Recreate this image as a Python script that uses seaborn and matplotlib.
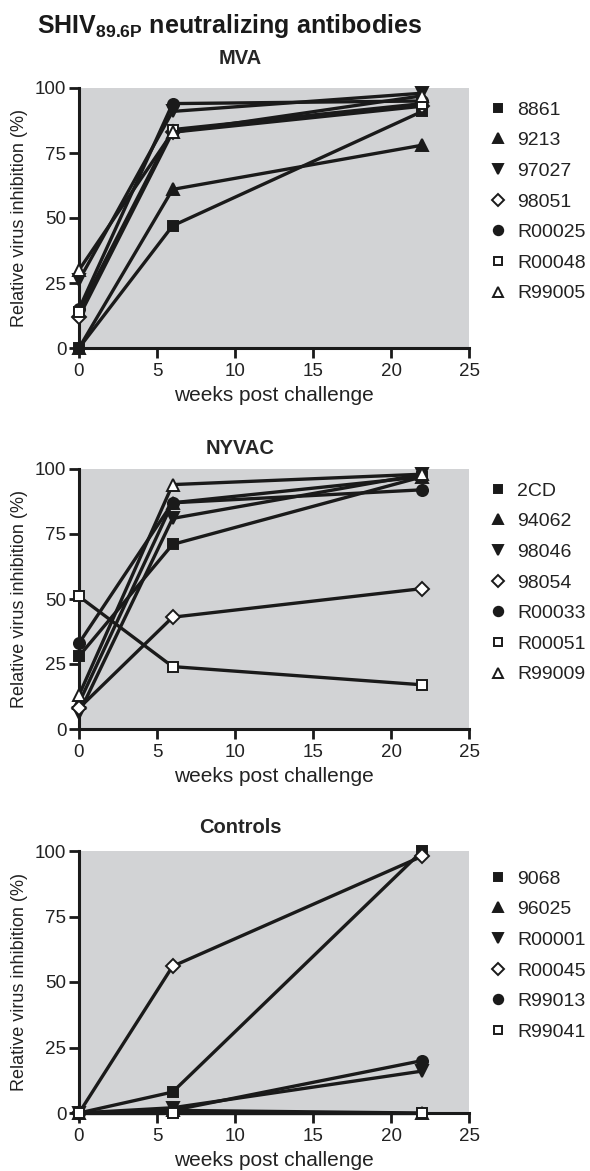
import matplotlib
matplotlib.use("Agg")
import matplotlib.pyplot as plt
from matplotlib.lines import Line2D
import seaborn as sns
import pandas as pd

weeks = [0, 6, 22]

mva_animals = ["8861", "9213", "97027", "98051", "R00025", "R00048", "R99005"]
mva_values = [
    [0, 47, 91],
    [0, 61, 78],
    [26, 91, 98],
    [12, 83, 93],
    [15, 94, 95],
    [14, 84, 94],
    [30, 83, 97],
]

nyvac_animals = ["2CD", "94062", "98046", "98054", "R00033", "R00051", "R99009"]
nyvac_values = [
    [28, 71, 97],
    [10, 87, 97],
    [6, 81, 98],
    [8, 43, 54],
    [33, 87, 92],
    [51, 24, 17],
    [13, 94, 98],
]

ctrl_animals = ["9068", "96025", "R00001", "R00045", "R99013", "R99041"]
ctrl_values = [
    [0, 8, 100],
    [0, 1, 0],
    [0, 2, 16],
    [0, 56, 98],
    [0, 1, 20],
    [0, 0, 0],
]

panel_titles = ["MVA", "NYVAC", "Controls"]
y_ticks = [0, 25, 50, 75, 100]
x_ticks = [0, 5, 10, 15, 20, 25]

# marker styles (shape, filled)
styles7 = [("s", True), ("^", True), ("v", True), ("D", False), ("o", True), ("s", False), ("^", False)]
styles_ctrl = [("s", True), ("^", True), ("v", True), ("D", False), ("o", True), ("s", False)]

sns.set_style("ticks")
plt.rcParams["font.family"] = ["Liberation Sans", "DejaVu Sans"]
plt.rcParams["mathtext.fontset"] = "custom"
plt.rcParams["mathtext.rm"] = "Liberation Sans"
plt.rcParams["mathtext.bf"] = "Liberation Sans:bold"

fig = plt.figure(figsize=(5.9, 11.71), dpi=100)

axes_rects = [
    [79 / 590, 1 - 348 / 1171, 390 / 590, 260 / 1171],
    [79 / 590, 1 - 729 / 1171, 390 / 590, 260 / 1171],
    [79 / 590, 1 - 1113 / 1171, 390 / 590, 262 / 1171],
]
legend_tops = [108, 489, 877]
title_pads = [17, 11, 13]

panels = [
    (mva_animals, mva_values, styles7),
    (nyvac_animals, nyvac_values, styles7),
    (ctrl_animals, ctrl_values, styles_ctrl),
]

ms = {"s": 7.5, "^": 9, "v": 9, "D": 7, "o": 8}
ink = "#1a1a1a"
leg_fs = 14

for i, ((animals, values, styles), rect) in enumerate(zip(panels, axes_rects)):
    ax = fig.add_axes(rect)
    ax.set_facecolor("#d2d3d5")
    rows = []
    for a, v in zip(animals, values):
        for w, val in zip(weeks, v):
            rows.append({"animal": a, "week": w, "value": val})
    df = pd.DataFrame(rows)
    for a, (mk, filled) in zip(animals, styles):
        sub = df[df["animal"] == a]
        sns.lineplot(data=sub, x="week", y="value", ax=ax, color=ink,
                     linewidth=2.4, marker=mk, markersize=ms[mk],
                     markerfacecolor=ink if filled else "white",
                     markeredgecolor=ink, markeredgewidth=1.4,
                     clip_on=False, zorder=3, legend=False)
    ax.set_xlim(0, 25)
    ax.set_ylim(0, 100)
    ax.set_xticks(x_ticks)
    ax.set_yticks(y_ticks)
    for side in ["top", "right"]:
        ax.spines[side].set_visible(False)
    for side in ["left", "bottom"]:
        ax.spines[side].set_linewidth(2.2)
        ax.spines[side].set_color(ink)
    ax.tick_params(axis="both", direction="out", length=7, width=2,
                   color=ink, labelsize=13.5, labelcolor="#222222")
    ax.tick_params(axis="x", pad=4)
    ax.tick_params(axis="y", pad=2)
    ax.set_xlabel("weeks post challenge", fontsize=15, color="#222222", labelpad=4)
    ax.set_ylabel("Relative virus inhibition (%)", fontsize=13, color="#222222", labelpad=5)
    ax.set_title(panel_titles[i], fontsize=14.5, fontweight="bold", x=0.413, pad=title_pads[i])

    handles = []
    for a, (mk, filled) in zip(animals, styles):
        handles.append(Line2D([], [], linestyle="none", marker=mk,
                              markersize=ms[mk] * 0.85,
                              markerfacecolor=ink if filled else "white",
                              markeredgecolor=ink, markeredgewidth=1.4,
                              label=a))
    top_frac = 1 - (legend_tops[i] - 7) / 1171
    fig.legend(handles=handles, loc="upper left",
               bbox_to_anchor=(488 / 590, top_frac), frameon=False,
               fontsize=leg_fs, labelspacing=0.67, handletextpad=0.5,
               handlelength=1.0, borderaxespad=0, borderpad=0,
               labelcolor="#222222")

fig.text(230 / 590, 1 - 33 / 1171, r"SHIV$_{\mathbf{89.6P}}$ neutralizing antibodies",
         ha="center", va="baseline", fontsize=18, fontweight="bold", color=ink)

fig.savefig("out.png", dpi=100)
